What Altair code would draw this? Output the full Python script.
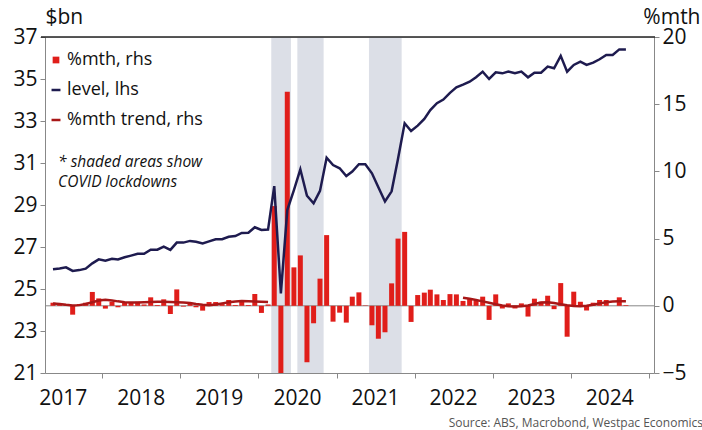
import altair as alt
import pandas as pd

# Monthly retail turnover, May 2017 - Sep 2024
start_month = "2017-05-01"
level = [
    25.94, 25.98, 26.03, 25.86, 25.90, 25.97, 26.22, 26.41, 26.35, 26.44,
    26.41, 26.51, 26.59, 26.68, 26.68, 26.87, 26.87, 27.02, 26.86, 27.21,
    27.21, 27.29, 27.25, 27.17, 27.27, 27.37, 27.37, 27.49, 27.52, 27.67,
    27.68, 27.94, 27.81, 27.83, 29.90, 24.79, 28.76, 29.71, 30.70, 29.44,
    29.08, 29.67, 31.25, 30.90, 30.75, 30.38, 30.59, 30.94, 30.94, 30.51,
    29.85, 29.17, 29.65, 31.20, 32.89, 32.52, 32.78, 33.10, 33.52, 33.85,
    34.02, 34.34, 34.60, 34.73, 34.87, 35.08, 35.35, 35.00, 35.32, 35.27,
    35.35, 35.27, 35.35, 35.08, 35.30, 35.30, 35.59, 35.51, 36.10, 35.35,
    35.67, 35.83, 35.67, 35.78, 35.94, 36.14, 36.14, 36.41, 36.41,
]
pct_mth = [
    0.23, 0.15, 0.05, -0.66, 0.13, 0.23, 1.03, 0.55, -0.21, 0.30,
    -0.11, 0.23, 0.23, 0.30, 0.10, 0.63, 0.06, 0.48, -0.61, 1.22,
    -0.06, 0.18, -0.11, -0.36, 0.28, 0.28, 0.13, 0.43, 0.06, 0.38,
    0.06, 0.88, -0.53, 0.10, 7.42, -17.1, 15.93, 2.86, 3.75, -4.2,
    -1.3, 2.02, 5.26, -1.18, -0.51, -1.25, 0.68, 1.0, 0.03, -1.45,
    -2.45, -1.97, 1.67, 5.0, 5.5, -1.2, 0.8, 0.98, 1.2, 0.85,
    0.43, 0.87, 0.85, 0.36, 0.5, 0.36, 0.68, -1.05, 0.85, -0.2,
    0.18, -0.2, 0.18, -0.8, 0.53, 0.3, 0.75, -0.25, 1.69, -2.3,
    1.05, 0.3, -0.35, 0.23, 0.43, 0.43, 0.0, 0.63, 0.05,
]
# Trend estimates: two published runs (to Feb 2020, and from Aug 2022)
trend_a_start = "2017-05-01"
trend_a = [
    0.18, 0.14, 0.08, 0.03, 0.05, 0.14, 0.27, 0.40, 0.45, 0.40,
    0.33, 0.27, 0.25, 0.25, 0.26, 0.28, 0.30, 0.30, 0.28, 0.27,
    0.25, 0.20, 0.13, 0.07, 0.05, 0.10, 0.18, 0.26, 0.32, 0.35,
    0.34, 0.32, 0.30, 0.28,
]
trend_b_start = "2022-08-01"
trend_b = [
    0.60, 0.52, 0.43, 0.33, 0.23, 0.12, 0.03, -0.03, -0.06, -0.04,
    0.03, 0.14, 0.24, 0.26, 0.20, 0.12, 0.04, -0.01, -0.03, 0.0,
    0.08, 0.18, 0.27, 0.32, 0.34, 0.34,
]
# COVID lockdown periods
lockdown_start = ["2020-03-01", "2020-07-01", "2021-06-01"]
lockdown_end = ["2020-06-01", "2020-11-01", "2021-11-01"]

series_names = ["%mth, rhs", "level, lhs", "%mth trend, rhs"]
series_colors = ["#E01E1A", "#1E1B4F", "#A81717"]
left_ticks = list(range(21, 38, 2))
right_ticks = [-5, 0, 5, 10, 15, 20]
year_ticks = list(range(2018, 2026))
note_lines = ["* shaded areas show", "COVID lockdowns"]
source_text = "Source: ABS, Macrobond, Westpac Economics"

FONT = "Open Sans"
W, H = 609, 336


def mid_months(start, n):
    return pd.date_range(start, periods=n, freq="MS") + pd.Timedelta(days=14)


dates = mid_months(start_month, len(level))
df_level = pd.DataFrame({"date": dates, "value": level, "series": series_names[1]})
df_pct = pd.DataFrame({"date": dates, "value": pct_mth, "series": series_names[0]})
df_trend = pd.concat([
    pd.DataFrame({"date": mid_months(trend_a_start, len(trend_a)), "value": trend_a, "seg": "a"}),
    pd.DataFrame({"date": mid_months(trend_b_start, len(trend_b)), "value": trend_b, "seg": "b"}),
])
df_trend["series"] = series_names[2]
df_shade = pd.DataFrame({
    "start": pd.to_datetime(lockdown_start),
    "end": pd.to_datetime(lockdown_end),
})

x_scale = alt.Scale(
    domain=[alt.DateTime(year=2017, month=5, date=1), alt.DateTime(year=2025, month=1, date=1)]
)
left_scale = alt.Scale(domain=[21, 37], nice=False, zero=False)
right_scale = alt.Scale(domain=[-5, 20], nice=False, zero=False)

IS_BAR = "datum.label === '%mth, rhs'"
color = alt.Color(
    "series:N",
    scale=alt.Scale(domain=series_names, range=series_colors),
    sort=series_names,
    legend=alt.Legend(
        title=None,
        orient="none",
        legendX=2,
        legendY=14,
        labelFont=FONT,
        labelFontSize=18,
        labelColor="#111111",
        labelOffset=2,
        rowPadding=12,
        symbolType=alt.ExprRef(f"{IS_BAR} ? 'square' : 'stroke'"),
        symbolSize=alt.ExprRef(f"{IS_BAR} ? 45 : 80"),
        symbolStrokeWidth=alt.ExprRef(f"{IS_BAR} ? 0 : 2.5"),
        symbolFillColor=alt.ExprRef(f"{IS_BAR} ? '#E01E1A' : 'transparent'"),
        symbolOpacity=1,
    ),
)

x_axis = alt.Axis(
    title=None,
    values=[alt.DateTime(year=y, month=1, date=1) for y in year_ticks],
    labelExpr="'' + (year(datum.value) - 1)",
    labelOffset=-39.7,
    labelFont=FONT,
    labelFontSize=21,
    labelColor="#111111",
    labelPadding=9,
    tickSize=5,
    tickColor="#888888",
    domainColor="#888888",
    grid=False,
)


def y_axis(orient, title, values, align, tx):
    return alt.Axis(
        orient=orient,
        title=title,
        titleAngle=0,
        titleAlign=align,
        titleBaseline="alphabetic",
        titleX=tx,
        titleY=-14,
        titleFont=FONT,
        titleFontSize=21,
        titleFontWeight="normal",
        titleColor="#111111",
        values=values,
        labelFont=FONT,
        labelFontSize=21,
        labelColor="#111111",
        labelPadding=3,
        tickSize=5,
        tickColor="#888888",
        domainColor="#888888",
        grid=False,
    )


shade = alt.Chart(df_shade).mark_rect(color="#DCDFE7").encode(
    x=alt.X("start:T", scale=x_scale, axis=x_axis),
    x2="end:T",
    y=alt.value(0),
    y2=alt.value(H),
)

bars = alt.Chart(df_pct).mark_bar(size=5, clip=True).encode(
    x=alt.X("date:T", scale=x_scale),
    y=alt.Y("value:Q", scale=right_scale, axis=y_axis("right", "%mth", right_ticks, "right", 46)),
    color=color,
)

zero_line = alt.Chart(pd.DataFrame({"value": [0]})).mark_rule(color="#888888", strokeWidth=1).encode(
    y=alt.Y("value:Q", scale=right_scale, axis=None),
)

trend = alt.Chart(df_trend).mark_line(strokeWidth=2.5).encode(
    x=alt.X("date:T", scale=x_scale),
    y=alt.Y("value:Q", scale=right_scale, axis=None),
    detail="seg:N",
    color=color,
)

level_line = alt.Chart(df_level).mark_line(strokeWidth=2.5).encode(
    x=alt.X("date:T", scale=x_scale),
    y=alt.Y("value:Q", scale=left_scale, axis=y_axis("left", "$bn", left_ticks, "left", 0)),
    color=color,
)

top_border = alt.Chart(pd.DataFrame({"v": [0]})).mark_rule(color="#222222", strokeWidth=1.3).encode(
    x=alt.value(-4), x2=alt.value(W + 1), y=alt.value(0)
)

note = alt.Chart(pd.DataFrame({
    "date": [pd.Timestamp("2017-06-08")],
    "value": [30.8],
    "text": [note_lines],
})).mark_text(
    align="left", baseline="alphabetic", font=FONT, fontSize=15.5, fontStyle="italic",
    color="#111111", lineHeight=20,
).encode(
    x=alt.X("date:T", scale=x_scale),
    y=alt.Y("value:Q", scale=left_scale, axis=None),
    text="text",
)

chart = alt.layer(
    shade, zero_line, bars, trend, level_line, note, top_border
).resolve_scale(
    y="independent"
).properties(
    width=W,
    height=H,
    autosize=alt.AutoSizeParams(type="none"),
    padding={"left": 45, "top": 37, "right": 48, "bottom": 57},
    title=alt.TitleParams(
        text=source_text,
        orient="bottom",
        anchor="end",
        font=FONT,
        fontSize=12,
        fontWeight="normal",
        color="#555555",
        dx=3,
        offset=10,
    ),
).configure_view(
    stroke=None
).configure(
    background="white"
)

chart.save("out.html", embed_options={"renderer": "svg", "actions": False})
